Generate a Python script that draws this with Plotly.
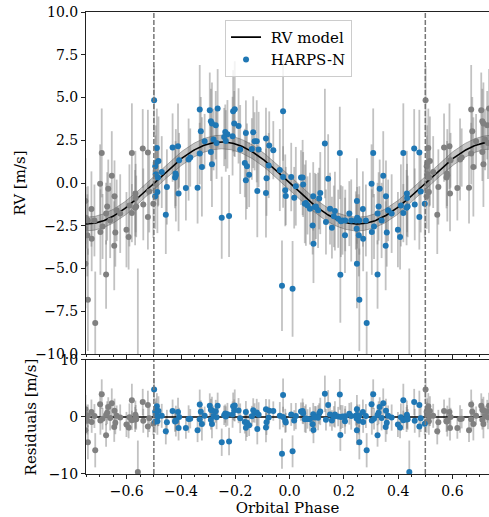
import numpy as np
import plotly.graph_objects as go

# ---------------- data ----------------
phase = [-0.499, -0.489, -0.495, -0.483, -0.493, -0.471, -0.485, -0.487, -0.495, -0.452,
         -0.456, -0.431, -0.411, -0.407, -0.419, -0.422, -0.409, -0.382, -0.372, -0.366,
         -0.339, -0.331, -0.327, -0.331, -0.323, -0.313, -0.294, -0.290, -0.286, -0.272,
         -0.265, -0.290, -0.286, -0.280, -0.269, -0.208, -0.202, -0.204, -0.188, -0.237,
         -0.229, -0.241, -0.210, -0.235, -0.182, -0.161, -0.134, -0.129, -0.121, -0.139,
         -0.114, -0.165, -0.157, -0.149, -0.161, -0.119, -0.087, -0.087, -0.075, -0.060,
         -0.085, -0.077, -0.036, -0.024, -0.024, -0.016, -0.014, -0.250, -0.223, -0.028,
         0.006, 0.017, 0.023, 0.042, 0.048, 0.050, 0.060, 0.066, 0.075, 0.087,
         0.109, 0.113, 0.097, 0.105, 0.085, 0.088, 0.130, 0.142, 0.134, 0.149,
         0.156, 0.167, 0.179, 0.185, 0.187, 0.195, 0.205, 0.204, 0.220, 0.227,
         0.244, 0.248, 0.247, 0.248, 0.011, 0.257, 0.284, 0.324, 0.270, 0.249,
         0.281, 0.255, 0.271, 0.302, 0.332, 0.345, 0.328, 0.324, 0.339, 0.303,
         0.311, 0.355, 0.363, 0.376, 0.358, 0.354, 0.399, 0.407, 0.410, 0.419,
         0.432, 0.433, 0.435, 0.431, 0.461, 0.478, 0.483, 0.498, 0.308, 0.419,
         0.459, 0.478, 0.257, -0.493, -0.420, 0.441, 0.189, 0.163, 0.056, 0.093]

rv = [4.84, 2.05, 0.98, 1.29, 0.51, 0.64, 0.32, -0.53, -0.78, -0.23,
      -1.85, 2.07, 2.15, 1.33, 0.45, 0.32, -0.62, -0.29, 1.37, 1.49,
      -0.27, 4.30, 3.03, 1.72, 0.94, 2.44, 4.26, 3.61, 3.48, 3.38,
      4.36, 1.82, 1.10, 2.54, 2.34, 4.20, 4.32, 3.48, 3.34, 2.99,
      2.85, 2.69, 2.74, 2.46, 1.96, 2.93, 2.97, 2.44, 2.44, 1.99,
      1.96, 1.17, 0.98, 0.49, 0.16, -0.47, -0.59, 2.60, 2.19, 1.92,
      0.28, 1.02, 0.76, 4.20, 0.35, -0.43, -0.76, -2.03, -1.93, -6.01,
      0.35, -0.86, -0.19, 0.32, 0.32, -0.09, -1.17, -1.31, -1.50, -0.78,
      -0.91, -0.59, -1.37, -1.60, -2.48, -3.55, 2.31, 0.25, -2.28, -1.50,
      -2.61, -1.64, -2.09, 1.76, -5.37, -2.19, -2.19, -3.06, -1.79, -2.19,
      -2.19, -1.05, -2.67, -4.72, -6.19, -6.83, -8.18, -5.35, -1.52, -2.03,
      -2.19, -3.06, -3.26, -0.04, -0.33, 0.43, -1.37, -1.79, -2.19, -2.87,
      -2.54, -0.78, -1.60, -1.79, -2.89, -3.67, -2.73, -3.16, -1.31, -1.76,
      -0.62, -0.88, -1.37, -1.44, -1.25, -1.99, -0.49, -1.21, 1.76, 1.76,
      2.02, 1.78, -2.19, 1.17, 0.55, -10.5, -2.23, -1.95, -1.22, -1.41]

rv_err = [2.0, 2.3, 1.8, 2.6, 1.5, 2.1, 1.7, 2.4, 1.9, 2.2,
          2.3, 2.0, 2.5, 1.6, 2.7, 1.8, 2.2, 1.9, 2.4, 1.7,
          2.1, 2.6, 2.0, 1.8, 2.9, 1.6, 2.2, 1.9, 2.4, 2.0,
          2.3, 1.7, 2.5, 1.8, 2.1, 2.4, 2.8, 1.9, 2.2, 1.6,
          2.0, 1.7, 2.3, 1.8, 2.6, 1.9, 2.1, 1.7, 2.4, 1.8,
          2.2, 2.0, 2.5, 1.9, 2.3, 2.7, 2.6, 1.8, 2.0, 1.7,
          2.2, 1.9, 2.4, 2.9, 1.8, 2.1, 1.7, 2.4, 2.4, 2.65,
          2.0, 1.8, 2.3, 1.6, 2.2, 1.9, 2.5, 1.7, 2.1, 2.0,
          1.8, 2.4, 1.9, 2.2, 1.7, 2.3, 3.2, 2.6, 1.9, 2.1,
          1.8, 2.3, 1.7, 2.7, 2.8, 2.0, 1.8, 2.2, 1.9, 2.4,
          1.7, 2.5, 2.0, 2.6, 2.8, 3.0, 3.0, 2.0, 2.2, 1.8,
          2.1, 2.4, 1.9, 2.3, 1.7, 2.6, 2.0, 1.8, 2.2, 2.5,
          1.9, 2.1, 1.8, 2.3, 2.0, 2.6, 2.2, 1.9, 2.4, 1.7,
          2.5, 2.0, 1.8, 2.2, 2.1, 1.9, 2.4, 2.0, 2.6, 2.9,
          2.3, 2.5, 2.0, 2.2, 1.9, 5.5, 2.1, 1.8, 2.3, 2.0]

K_amp = 2.4          # RV semi-amplitude of the model [m/s]
band_half = 0.4      # half width of model uncertainty band [m/s]

x_ticks = [-0.6, -0.4, -0.2, 0.0, 0.2, 0.4, 0.6]
x_ticktext = ["\u22120.6", "\u22120.4", "\u22120.2", "0.0", "0.2", "0.4", "0.6"]
y_ticks = [10.0, 7.5, 5.0, 2.5, 0.0, -2.5, -5.0, -7.5, -10.0]
y_ticktext = ["10.0", "7.5", "5.0", "2.5", "0.0", "\u22122.5", "\u22125.0", "\u22127.5", "\u221210.0"]
r_ticks = [-10, 0, 10]
r_ticktext = ["\u221210", "0", "10"]

# ---------------- derived ----------------
phase = np.array(phase)
rv = np.array(rv)
rv_err = np.array(rv_err)


def model(p):
    return -K_amp * np.sin(2 * np.pi * p)


resid = rv - model(phase)

# wrapped copies (grey)
cp = np.where(phase > 0, phase - 1.0, phase + 1.0)
keep = (cp >= -0.76) & (cp <= 0.76)
cp_phase = cp[keep]
cp_rv = rv[keep]
cp_err = rv_err[keep]
cp_res = resid[keep]

mx = np.linspace(-0.75, 0.75, 401)
my = model(mx)

FONT = "DejaVu Serif"
BLUE = "#1f77b4"
GREY = "#808080"
ERRC = "rgba(128,128,128,0.48)"

fig = go.Figure()

all_x = np.concatenate([cp_phase, phase])
all_y = np.concatenate([cp_rv, rv])
all_e = np.concatenate([cp_err, rv_err])
all_r = np.concatenate([cp_res, resid])

# error bars (top)
fig.add_trace(go.Scatter(x=all_x, y=all_y, mode="markers",
                         marker=dict(size=1, color="rgba(0,0,0,0)"),
                         error_y=dict(type="data", array=all_e, color=ERRC, thickness=1.8, width=0),
                         showlegend=False, hoverinfo="skip", xaxis="x", yaxis="y"))
# model band
fig.add_trace(go.Scatter(x=np.concatenate([mx, mx[::-1]]),
                         y=np.concatenate([my + band_half, (my - band_half)[::-1]]),
                         fill="toself", fillcolor="rgba(128,128,128,0.45)",
                         line=dict(color="rgba(90,90,90,0.6)", width=0.8),
                         showlegend=False, hoverinfo="skip", xaxis="x", yaxis="y"))
# model line
fig.add_trace(go.Scatter(x=mx, y=my, mode="lines", line=dict(color="black", width=1.6),
                         name=" RV model", legendrank=1, xaxis="x", yaxis="y"))
# grey copies
fig.add_trace(go.Scatter(x=cp_phase, y=cp_rv, mode="markers",
                         marker=dict(size=6, color=GREY), showlegend=False,
                         xaxis="x", yaxis="y"))
# HARPS-N
fig.add_trace(go.Scatter(x=phase, y=rv, mode="markers",
                         marker=dict(size=6, color=BLUE), name=" HARPS-N", legendrank=2,
                         xaxis="x", yaxis="y"))

# residual panel
fig.add_trace(go.Scatter(x=all_x, y=all_r, mode="markers",
                         marker=dict(size=1, color="rgba(0,0,0,0)"),
                         error_y=dict(type="data", array=all_e, color=ERRC, thickness=1.8, width=0),
                         showlegend=False, hoverinfo="skip", xaxis="x2", yaxis="y2"))
fig.add_trace(go.Scatter(x=[-0.75, 0.75], y=[0, 0], mode="lines",
                         line=dict(color="black", width=1.6), showlegend=False,
                         xaxis="x2", yaxis="y2"))
fig.add_trace(go.Scatter(x=cp_phase, y=cp_res, mode="markers",
                         marker=dict(size=6, color=GREY), showlegend=False,
                         xaxis="x2", yaxis="y2"))
fig.add_trace(go.Scatter(x=phase, y=resid, mode="markers",
                         marker=dict(size=6, color=BLUE), showlegend=False,
                         xaxis="x2", yaxis="y2"))

# dashed lines at +-0.5
for xr, yr in (("x", "y"), ("x2", "y2")):
    for xv in (-0.5, 0.5):
        fig.add_shape(type="line", x0=xv, x1=xv, y0=0, y1=1, xref=xr, yref=yr + " domain",
                      line=dict(color="#777777", width=1.5, dash="5px,2px"))

axis_common = dict(showgrid=False, zeroline=False, showline=True, linecolor="#222222",
                   linewidth=1, ticks="outside", ticklen=4, tickwidth=1, tickcolor="#222222",
                   tickfont=dict(family=FONT, size=14, color="black"))

XR = [-0.75, 0.7346]
fig.update_layout(
    width=489, height=517,
    margin=dict(l=86, r=0, t=12, b=43),
    paper_bgcolor="white", plot_bgcolor="white",
    font=dict(family=FONT, size=15, color="black"),
    xaxis=dict(domain=[0, 1], anchor="y", range=XR, tickvals=x_ticks, ticktext=x_ticktext,
               showticklabels=False, mirror=True,
               minor=dict(dtick=0.05, tick0=0, ticks="outside", ticklen=2, tickcolor="#222222"),
               **axis_common),
    yaxis=dict(domain=[0.2597, 1], anchor="x", range=[-10, 10], tickvals=y_ticks,
               ticktext=y_ticktext,
               title=dict(text="RV [m/s]", font=dict(family=FONT, size=15), standoff=6),
               **axis_common),
    xaxis2=dict(domain=[0, 1], anchor="y2", range=XR, matches="x", tickvals=x_ticks,
                ticktext=x_ticktext, mirror=True,
                minor=dict(dtick=0.05, tick0=0, ticks="outside", ticklen=2, tickcolor="#222222"),
                title=dict(text="Orbital Phase", font=dict(family=FONT, size=15), standoff=2),
                **axis_common),
    yaxis2=dict(domain=[0, 0.2468], anchor="x2", range=[-10, 10], tickvals=r_ticks,
                ticktext=r_ticktext,
                title=dict(text="Residuals [m/s]", font=dict(family=FONT, size=15), standoff=8),
                **axis_common),
    legend=dict(x=0.345, y=0.983, xanchor="left", yanchor="top",
                bordercolor="#cccccc", borderwidth=1, bgcolor="rgba(255,255,255,0.8)",
                font=dict(family=FONT, size=15, color="black"), tracegroupgap=0,
                itemwidth=30),
    showlegend=True,
)

fig.write_html("out.html")
